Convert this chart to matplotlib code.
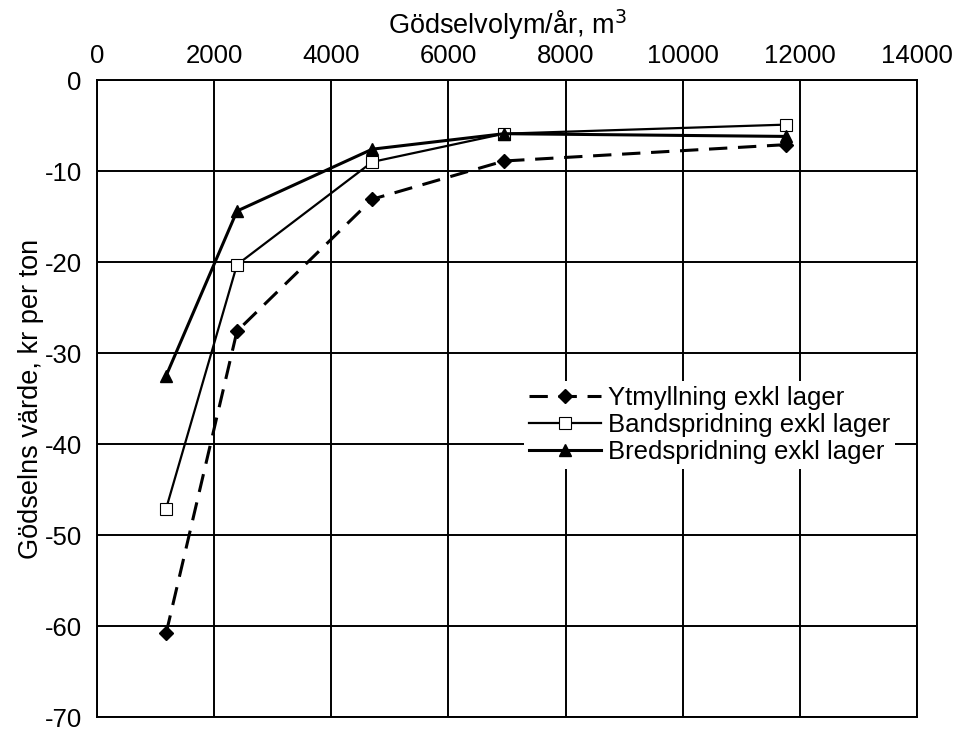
import matplotlib.pyplot as plt

plt.rcParams['font.family'] = ['Liberation Sans', 'DejaVu Sans']
plt.rcParams['axes.unicode_minus'] = False

# Gödselvolym per år (m3) och gödselns värde (kr per ton)
volym = [1180, 2390, 4700, 6950, 11770]
ytmyllning = [-60.8, -27.6, -13.1, -8.9, -7.1]
bandspridning = [-47.1, -20.3, -9.0, -5.9, -4.9]
bredspridning = [-32.5, -14.4, -7.6, -5.9, -6.2]

fig = plt.figure(figsize=(9.7, 7.3), dpi=100)
ax = fig.add_axes([0.1, 0.0178, 0.8454, 0.8726])

ax.plot(volym, ytmyllning, color='black', lw=2.2, ls=(0, (6, 3.5)), marker='D',
        ms=7, label='Ytmyllning exkl lager')
ax.plot(volym, bandspridning, color='black', lw=1.6, marker='s', ms=9,
        mfc='white', mec='black', mew=0.8, label='Bandspridning exkl lager')
ax.plot(volym, bredspridning, color='black', lw=2.2, marker='^', ms=9,
        label='Bredspridning exkl lager')

ax.set_xlim(0, 14000)
ax.set_ylim(-70, 0)
ax.set_xticks(range(0, 14001, 2000))
ax.set_yticks(range(-70, 1, 10))
ax.xaxis.tick_top()
ax.xaxis.set_label_position('top')
ax.tick_params(axis='both', labelsize=18.5, length=0)
ax.tick_params(axis='x', pad=9)
ax.tick_params(axis='y', pad=11)
ax.grid(True, color='black', lw=1.4)
for s in ax.spines.values():
    s.set_linewidth(1.4)

ax.set_xlabel('Gödselvolym/år, m$^3$', fontsize=19.5, labelpad=7)
ax.set_ylabel('Gödselns värde, kr per ton', fontsize=19.5, labelpad=0)

leg = ax.legend(loc='upper left', bbox_to_anchor=(0.521, 0.527), fontsize=18.5,
                frameon=True, edgecolor='none', facecolor='white', framealpha=1,
                handlelength=2.8, handletextpad=0.25, labelspacing=0.1,
                borderpad=0.2, borderaxespad=0, fancybox=False)

fig.savefig('out.png', dpi=100)
